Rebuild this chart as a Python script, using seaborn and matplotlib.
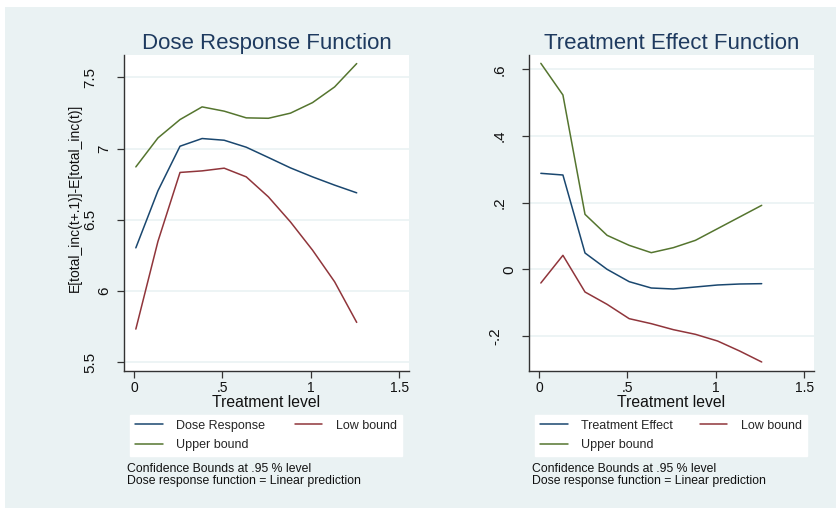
import matplotlib
matplotlib.use("Agg")
import matplotlib.pyplot as plt
import matplotlib.transforms as mtransforms
from matplotlib.patches import Rectangle
import seaborn as sns

# treatment levels on the x axis
treat_level = [0.01, 0.135, 0.26, 0.385, 0.51, 0.635, 0.76, 0.885, 1.01, 1.135, 1.26]

# dose response function and bounds
dose_response = [6.303, 6.703, 7.016, 7.070, 7.058, 7.009, 6.937, 6.864, 6.801, 6.743, 6.689]
dose_low = [5.733, 6.348, 6.832, 6.843, 6.862, 6.801, 6.661, 6.485, 6.287, 6.065, 5.780]
dose_upper = [6.871, 7.074, 7.203, 7.292, 7.262, 7.215, 7.212, 7.248, 7.322, 7.432, 7.596]

# treatment effect function and bounds
effect = [0.288, 0.283, 0.049, 0.000, -0.037, -0.056, -0.059, -0.053, -0.047, -0.044, -0.043]
effect_low = [-0.041, 0.042, -0.068, -0.105, -0.148, -0.163, -0.181, -0.195, -0.215, -0.245, -0.278]
effect_upper = [0.618, 0.523, 0.165, 0.102, 0.072, 0.050, 0.065, 0.087, 0.122, 0.157, 0.192]

xticks = [0, 0.5, 1, 1.5]
xticklabels = ["0", ".5", "1", "1.5"]
dose_yticks = [5.5, 6, 6.5, 7, 7.5]
dose_yticklabels = ["5.5", "6", "6.5", "7", "7.5"]
effect_yticks = [-0.2, 0, 0.2, 0.4, 0.6]
effect_yticklabels = ["-.2", "0", ".2", ".4", ".6"]

NAVY = "#1a476f"
MAROON = "#90353b"
GREEN = "#55752f"
BG = "#eaf2f3"
TITLE = "#1e3a5f"

sns.set_style("white")
plt.rcParams["font.family"] = ["Liberation Sans", "DejaVu Sans"]

W, H = 836, 508
fig = plt.figure(figsize=(W / 100, H / 100), dpi=100, facecolor="white")
fig.patches.append(Rectangle((5 / W, 0), 1, (H - 7) / H, transform=fig.transFigure,
                             facecolor=BG, edgecolor="none", zorder=-10))


def panel(left, mid, low, up, mid_name, title, yticks, yticklabels, ylim, legend_left):
    ax = fig.add_axes([left / W, (H - 371) / H, 285 / W, 316 / H])
    ax.set_facecolor("white")
    sns.lineplot(x=treat_level, y=mid, color=NAVY, lw=1.1, ax=ax, label=mid_name)
    sns.lineplot(x=treat_level, y=low, color=MAROON, lw=1.1, ax=ax, label="Low bound")
    sns.lineplot(x=treat_level, y=up, color=GREEN, lw=1.1, ax=ax, label="Upper bound")
    ax.set_xlim(-0.057, 1.556)
    ax.set_ylim(*ylim)
    ax.set_xticks(xticks)
    ax.set_xticklabels(xticklabels)
    ax.set_yticks(yticks)
    ax.set_yticklabels(yticklabels)
    ax.yaxis.grid(True, color=BG, lw=1.2)
    ax.set_axisbelow(True)
    for s in ("top", "right"):
        ax.spines[s].set_visible(False)
    for s in ("left", "bottom"):
        ax.spines[s].set_color("#333333")
        ax.spines[s].set_linewidth(1.0)
    ax.tick_params(axis="both", direction="out", length=5, width=0.9, color="#333333",
                   labelcolor="#111111", left=True, bottom=True)
    ax.tick_params(axis="x", labelsize=10, pad=2)
    ax.tick_params(axis="y", labelsize=11, labelrotation=90, pad=0)
    for lab in ax.get_yticklabels():
        lab.set_va("center")
    ax.set_title(title, fontsize=16, color=TITLE, pad=4)
    ax.set_xlabel("Treatment level", fontsize=11.3, labelpad=0.5, color="#111111")
    ax.set_ylabel("")

    h, l = ax.get_legend_handles_labels()
    order = [0, 2, 1]
    fig.legend([h[i] for i in order], [l[i] for i in order], ncol=2, mode="expand",
               loc="center", bbox_to_anchor=(legend_left / W, (H - 457) / H, 272 / W, 43 / H),
               frameon=True, fancybox=False, facecolor="white", edgecolor="white",
               framealpha=1, fontsize=9, handlelength=2.2, handletextpad=1.1,
               borderpad=0.4, labelspacing=0.62, borderaxespad=0)
    ax.get_legend().remove()

    fig.text((legend_left - 3) / W, 1 - 469 / H, "Confidence Bounds at .95 % level",
             fontsize=8.8, va="center", color="#111111")
    fig.text((legend_left - 3) / W, 1 - 481 / H, "Dose response function = Linear prediction",
             fontsize=8.8, va="center", color="#111111")
    return ax


ax1 = panel(124, dose_response, dose_low, dose_upper, "Dose Response",
            "Dose Response Function", dose_yticks, dose_yticklabels, (5.439, 7.656), 130)
ax2 = panel(529, effect, effect_low, effect_upper, "Treatment Effect",
            "Treatment Effect Function", effect_yticks, effect_yticklabels, (-0.305, 0.643), 535)

fig.text(75 / W, 1 - 198 / H, "E[total_inc(t+.1)]-E[total_inc(t)]", rotation=90,
         ha="center", va="center", fontsize=10, color="#111111")

# Stata-style placement of rotated y tick labels: longer labels sit further left
gap = {1: 20, 2: 29, 3: 34}
fig.canvas.draw()
renderer = fig.canvas.get_renderer()
for ax in (ax1, ax2):
    axis_x = ax.get_window_extent(renderer).x0
    for lab in ax.get_yticklabels():
        bb = lab.get_window_extent(renderer)
        center = (bb.x0 + bb.x1) / 2
        target = axis_x - gap[len(lab.get_text())]
        dx = (target - center) / 100
        lab.set_transform(lab.get_transform() +
                          mtransforms.ScaledTranslation(dx, 0, fig.dpi_scale_trans))

fig.savefig("out.png", dpi=100)
